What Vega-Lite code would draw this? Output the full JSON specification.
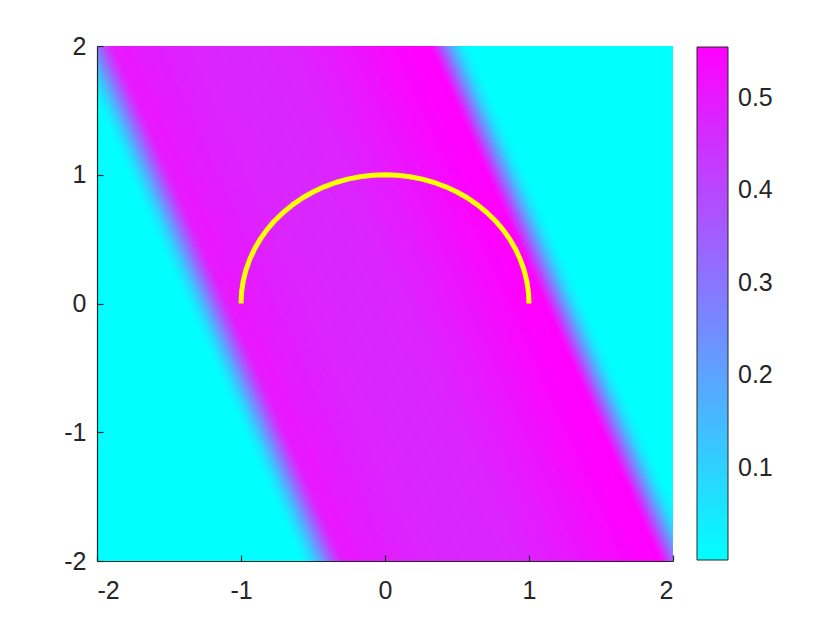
{
  "$schema": "https://vega.github.io/schema/vega-lite/v6.json",
  "width": 576,
  "height": 515,
  "autosize": {"type": "none"},
  "padding": {"left": 97, "top": 46, "right": 167, "bottom": 69},
  "background": "white",
  "config": {
    "view": {"stroke": null},
    "axis": {
      "domainColor": "#262626", "domainWidth": 1.2, "tickColor": "#262626", "tickWidth": 1.2,
      "labelColor": "#262626", "labelFont": "Liberation Sans", "labelFontSize": 25,
      "grid": false, "title": null, "tickSize": -6, "labelExpr": "'' + datum.value"
    },
    "legend": {"labelFont": "Liberation Sans"}
  },
  "layer": [
    {
      "data": {"values": [
        {"b":1,"y":-2,"x":-2.2,"x2":-0.58,"v":0},{"b":1,"y":2,"x":-3.8,"x2":-2.18,"v":0},
        {"b":2,"y":-2,"x":-0.58,"x2":-0.56,"v":0.0056},{"b":2,"y":2,"x":-2.18,"x2":-2.16,"v":0.0056},
        {"b":3,"y":-2,"x":-0.56,"x2":-0.54,"v":0.0222},{"b":3,"y":2,"x":-2.16,"x2":-2.14,"v":0.0222},
        {"b":4,"y":-2,"x":-0.54,"x2":-0.52,"v":0.0444},{"b":4,"y":2,"x":-2.14,"x2":-2.12,"v":0.0444},
        {"b":5,"y":-2,"x":-0.52,"x2":-0.50,"v":0.0722},{"b":5,"y":2,"x":-2.12,"x2":-2.10,"v":0.0722},
        {"b":6,"y":-2,"x":-0.50,"x2":-0.48,"v":0.1055},{"b":6,"y":2,"x":-2.10,"x2":-2.08,"v":0.1055},
        {"b":7,"y":-2,"x":-0.48,"x2":-0.46,"v":0.1443},{"b":7,"y":2,"x":-2.08,"x2":-2.06,"v":0.1443},
        {"b":8,"y":-2,"x":-0.46,"x2":-0.44,"v":0.1832},{"b":8,"y":2,"x":-2.06,"x2":-2.04,"v":0.1832},
        {"b":9,"y":-2,"x":-0.44,"x2":-0.42,"v":0.2276},{"b":9,"y":2,"x":-2.04,"x2":-2.02,"v":0.2276},
        {"b":10,"y":-2,"x":-0.42,"x2":-0.40,"v":0.2720},{"b":10,"y":2,"x":-2.02,"x2":-2.00,"v":0.2720},
        {"b":11,"y":-2,"x":-0.40,"x2":-0.38,"v":0.3164},{"b":11,"y":2,"x":-2.00,"x2":-1.98,"v":0.3164},
        {"b":12,"y":-2,"x":-0.38,"x2":-0.36,"v":0.3608},{"b":12,"y":2,"x":-1.98,"x2":-1.96,"v":0.3608},
        {"b":13,"y":-2,"x":-0.36,"x2":-0.34,"v":0.3996},{"b":13,"y":2,"x":-1.96,"x2":-1.94,"v":0.3996},
        {"b":14,"y":-2,"x":-0.34,"x2":-0.32,"v":0.4385},{"b":14,"y":2,"x":-1.94,"x2":-1.92,"v":0.4385},
        {"b":15,"y":-2,"x":-0.32,"x2":-0.30,"v":0.4718},{"b":15,"y":2,"x":-1.92,"x2":-1.90,"v":0.4718},
        {"b":16,"y":-2,"x":-0.30,"x2":-0.25,"v":0.4995},{"b":16,"y":2,"x":-1.90,"x2":-1.85,"v":0.4995},
        {"b":17,"y":-2,"x":-0.25,"x2":-0.15,"v":0.5051},{"b":17,"y":2,"x":-1.85,"x2":-1.75,"v":0.5051},
        {"b":18,"y":-2,"x":-0.15,"x2":-0.05,"v":0.4995},{"b":18,"y":2,"x":-1.75,"x2":-1.65,"v":0.4995},
        {"b":19,"y":-2,"x":-0.05,"x2":0.05,"v":0.4940},{"b":19,"y":2,"x":-1.65,"x2":-1.55,"v":0.4940},
        {"b":20,"y":-2,"x":0.05,"x2":0.15,"v":0.4884},{"b":20,"y":2,"x":-1.55,"x2":-1.45,"v":0.4884},
        {"b":21,"y":-2,"x":0.15,"x2":0.25,"v":0.4829},{"b":21,"y":2,"x":-1.45,"x2":-1.35,"v":0.4829},
        {"b":22,"y":-2,"x":0.25,"x2":0.35,"v":0.4773},{"b":22,"y":2,"x":-1.35,"x2":-1.25,"v":0.4773},
        {"b":23,"y":-2,"x":0.35,"x2":0.45,"v":0.4745},{"b":23,"y":2,"x":-1.25,"x2":-1.15,"v":0.4745},
        {"b":24,"y":-2,"x":0.45,"x2":0.55,"v":0.4718},{"b":24,"y":2,"x":-1.15,"x2":-1.05,"v":0.4718},
        {"b":25,"y":-2,"x":0.55,"x2":0.65,"v":0.4718},{"b":25,"y":2,"x":-1.05,"x2":-0.95,"v":0.4718},
        {"b":26,"y":-2,"x":0.65,"x2":0.75,"v":0.4718},{"b":26,"y":2,"x":-0.95,"x2":-0.85,"v":0.4718},
        {"b":27,"y":-2,"x":0.75,"x2":0.85,"v":0.4745},{"b":27,"y":2,"x":-0.85,"x2":-0.75,"v":0.4745},
        {"b":28,"y":-2,"x":0.85,"x2":0.95,"v":0.4773},{"b":28,"y":2,"x":-0.75,"x2":-0.65,"v":0.4773},
        {"b":29,"y":-2,"x":0.95,"x2":1.05,"v":0.4829},{"b":29,"y":2,"x":-0.65,"x2":-0.55,"v":0.4829},
        {"b":30,"y":-2,"x":1.05,"x2":1.15,"v":0.4912},{"b":30,"y":2,"x":-0.55,"x2":-0.45,"v":0.4912},
        {"b":31,"y":-2,"x":1.15,"x2":1.25,"v":0.4995},{"b":31,"y":2,"x":-0.45,"x2":-0.35,"v":0.4995},
        {"b":32,"y":-2,"x":1.25,"x2":1.35,"v":0.5078},{"b":32,"y":2,"x":-0.35,"x2":-0.25,"v":0.5078},
        {"b":33,"y":-2,"x":1.35,"x2":1.45,"v":0.5162},{"b":33,"y":2,"x":-0.25,"x2":-0.15,"v":0.5162},
        {"b":34,"y":-2,"x":1.45,"x2":1.55,"v":0.5273},{"b":34,"y":2,"x":-0.15,"x2":-0.05,"v":0.5273},
        {"b":35,"y":-2,"x":1.55,"x2":1.65,"v":0.5384},{"b":35,"y":2,"x":-0.05,"x2":0.05,"v":0.5384},
        {"b":36,"y":-2,"x":1.65,"x2":1.75,"v":0.5467},{"b":36,"y":2,"x":0.05,"x2":0.15,"v":0.5467},
        {"b":37,"y":-2,"x":1.75,"x2":1.85,"v":0.5522},{"b":37,"y":2,"x":0.15,"x2":0.25,"v":0.5522},
        {"b":38,"y":-2,"x":1.85,"x2":1.92,"v":0.555},{"b":38,"y":2,"x":0.25,"x2":0.32,"v":0.555},
        {"b":39,"y":-2,"x":1.92,"x2":1.94,"v":0.5273},{"b":39,"y":2,"x":0.32,"x2":0.34,"v":0.5273},
        {"b":40,"y":-2,"x":1.94,"x2":1.96,"v":0.4829},{"b":40,"y":2,"x":0.34,"x2":0.36,"v":0.4829},
        {"b":41,"y":-2,"x":1.96,"x2":1.98,"v":0.4329},{"b":41,"y":2,"x":0.36,"x2":0.38,"v":0.4329},
        {"b":42,"y":-2,"x":1.98,"x2":2.00,"v":0.3774},{"b":42,"y":2,"x":0.38,"x2":0.40,"v":0.3774},
        {"b":43,"y":-2,"x":2.00,"x2":2.02,"v":0.3219},{"b":43,"y":2,"x":0.40,"x2":0.42,"v":0.3219},
        {"b":44,"y":-2,"x":2.02,"x2":2.04,"v":0.2664},{"b":44,"y":2,"x":0.42,"x2":0.44,"v":0.2664},
        {"b":45,"y":-2,"x":2.04,"x2":2.06,"v":0.2165},{"b":45,"y":2,"x":0.44,"x2":0.46,"v":0.2165},
        {"b":46,"y":-2,"x":2.06,"x2":2.08,"v":0.1665},{"b":46,"y":2,"x":0.46,"x2":0.48,"v":0.1665},
        {"b":47,"y":-2,"x":2.08,"x2":2.10,"v":0.1221},{"b":47,"y":2,"x":0.48,"x2":0.50,"v":0.1221},
        {"b":48,"y":-2,"x":2.10,"x2":2.12,"v":0.0833},{"b":48,"y":2,"x":0.50,"x2":0.52,"v":0.0833},
        {"b":49,"y":-2,"x":2.12,"x2":2.14,"v":0.0500},{"b":49,"y":2,"x":0.52,"x2":0.54,"v":0.0500},
        {"b":50,"y":-2,"x":2.14,"x2":2.16,"v":0.0278},{"b":50,"y":2,"x":0.54,"x2":0.56,"v":0.0278},
        {"b":51,"y":-2,"x":2.16,"x2":2.18,"v":0.0111},{"b":51,"y":2,"x":0.56,"x2":0.58,"v":0.0111},
        {"b":52,"y":-2,"x":2.18,"x2":3.80,"v":0},{"b":52,"y":2,"x":0.58,"x2":2.20,"v":0}
      ]},
      "mark": {"type": "area", "orient": "horizontal", "clip": true, "strokeWidth": 0.8,
               "stroke": {"expr": "scale('color', datum.v)"}},
      "encoding": {
        "y": {"field": "y", "type": "quantitative", "scale": {"domain": [-2, 2], "nice": false, "zero": false},
              "axis": {"values": [-2, -1, 0, 1, 2], "labelPadding": 17, "zindex": 1}},
        "x": {"field": "x", "type": "quantitative", "scale": {"domain": [-2, 2], "nice": false, "zero": false},
              "axis": {"values": [-2, -1, 0, 1, 2], "labelPadding": 23, "zindex": 1}},
        "x2": {"field": "x2"},
        "detail": {"field": "b", "type": "nominal"},
        "color": {
          "field": "v", "type": "quantitative",
          "scale": {"domain": [0, 0.555], "range": ["#00ffff", "#ff00ff"], "interpolate": "rgb"},
          "legend": {
            "type": "gradient", "format": ".1f",
            "title": null, "orient": "none", "direction": "vertical", "legendX": 600, "legendY": 1,
            "gradientLength": 513, "gradientThickness": 31, "gradientStrokeColor": "#262626", "gradientStrokeWidth": 1,
            "values": [0.1, 0.2, 0.3, 0.4, 0.5], "labelFontSize": 25, "labelColor": "#262626", "labelOffset": 10,
            "labelOverlap": false, "padding": 0
          }
        }
      }
    },
    {
      "data": {"values": [
        {"i":0,"x":1,"y":0},{"i":1,"x":0.9962,"y":0.0872},{"i":2,"x":0.9848,"y":0.1736},{"i":3,"x":0.9659,"y":0.2588},
        {"i":4,"x":0.9397,"y":0.342},{"i":5,"x":0.9063,"y":0.4226},{"i":6,"x":0.866,"y":0.5},{"i":7,"x":0.8192,"y":0.5736},
        {"i":8,"x":0.766,"y":0.6428},{"i":9,"x":0.7071,"y":0.7071},{"i":10,"x":0.6428,"y":0.766},{"i":11,"x":0.5736,"y":0.8192},
        {"i":12,"x":0.5,"y":0.866},{"i":13,"x":0.4226,"y":0.9063},{"i":14,"x":0.342,"y":0.9397},{"i":15,"x":0.2588,"y":0.9659},
        {"i":16,"x":0.1736,"y":0.9848},{"i":17,"x":0.0872,"y":0.9962},{"i":18,"x":0,"y":1},{"i":19,"x":-0.0872,"y":0.9962},
        {"i":20,"x":-0.1736,"y":0.9848},{"i":21,"x":-0.2588,"y":0.9659},{"i":22,"x":-0.342,"y":0.9397},{"i":23,"x":-0.4226,"y":0.9063},
        {"i":24,"x":-0.5,"y":0.866},{"i":25,"x":-0.5736,"y":0.8192},{"i":26,"x":-0.6428,"y":0.766},{"i":27,"x":-0.7071,"y":0.7071},
        {"i":28,"x":-0.766,"y":0.6428},{"i":29,"x":-0.8192,"y":0.5736},{"i":30,"x":-0.866,"y":0.5},{"i":31,"x":-0.9063,"y":0.4226},
        {"i":32,"x":-0.9397,"y":0.342},{"i":33,"x":-0.9659,"y":0.2588},{"i":34,"x":-0.9848,"y":0.1736},{"i":35,"x":-0.9962,"y":0.0872},
        {"i":36,"x":-1,"y":0}
      ]},
      "mark": {"type": "line", "color": "#ffff00", "strokeWidth": 5, "strokeCap": "butt", "strokeJoin": "round"},
      "encoding": {
        "x": {"field": "x", "type": "quantitative"},
        "y": {"field": "y", "type": "quantitative"},
        "order": {"field": "i", "type": "quantitative"}
      }
    }
  ]
}
